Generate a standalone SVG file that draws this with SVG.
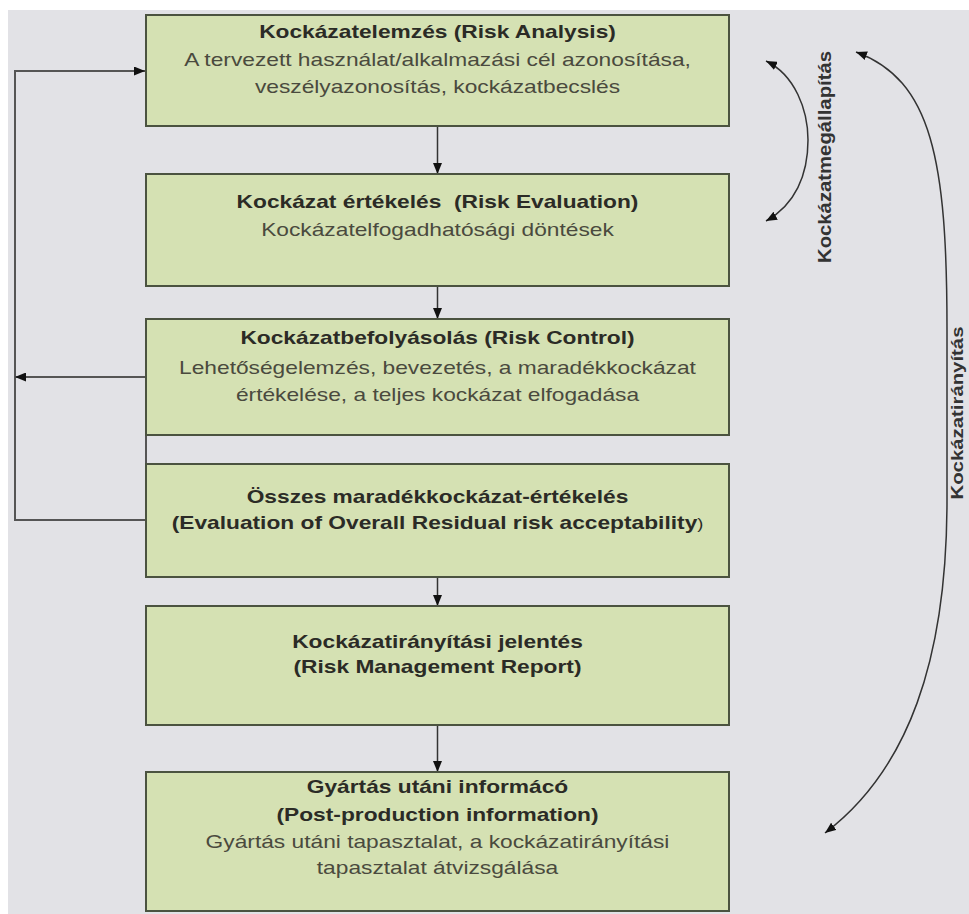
<svg xmlns="http://www.w3.org/2000/svg" width="969" height="914" viewBox="0 0 969 914">
<style>
.box{fill:#d5e1b3;stroke:#4b5340;stroke-width:2}
.t{font-family:"Liberation Sans",Arial,sans-serif;font-size:17.5px;text-anchor:middle}
.b{font-weight:bold;fill:#2b2b26}
.n{fill:#4a4a3e}
.con{fill:none;stroke:#333;stroke-width:1.5}
.loop{fill:none;stroke:#555;stroke-width:2}
.side{font-family:"Liberation Sans",Arial,sans-serif;font-weight:bold;fill:#333;text-anchor:middle}
</style>
<defs>
<marker id="ah" viewBox="0 0 11 9" refX="11" refY="4.5" markerWidth="11" markerHeight="9" markerUnits="userSpaceOnUse" orient="auto-start-reverse">
<path d="M0,0 L11,4.5 L0,9 z" fill="#111" stroke="none"/>
</marker>
</defs>
<rect width="969" height="914" fill="#ffffff"/>
<rect x="8" y="10" width="961" height="904" fill="#e2e2e6"/>

<g id="connectors">
<line class="con" x1="437.5" y1="127" x2="437.5" y2="174" marker-end="url(#ah)"/>
<line class="con" x1="437.5" y1="287" x2="437.5" y2="319" marker-end="url(#ah)"/>
<line class="con" x1="437.5" y1="578" x2="437.5" y2="606" marker-end="url(#ah)"/>
<line class="con" x1="437.5" y1="726" x2="437.5" y2="772" marker-end="url(#ah)"/>
<line class="loop" x1="146" y1="435" x2="146" y2="464"/>
<polyline class="loop" points="146,520 15,520 15,71 145,71" marker-end="url(#ah)"/>
<line class="loop" x1="145" y1="377" x2="15" y2="377" marker-end="url(#ah)"/>
<path class="con" d="M 766 61 C 795 75, 808 110, 808 140 C 808 175, 795 205, 766 221" marker-start="url(#ah)" marker-end="url(#ah)"/>
<path class="con" d="M 856 52 C 932 80, 947 160, 947 330 L 947 500 C 947 660, 908 770, 825 833" marker-start="url(#ah)" marker-end="url(#ah)"/>
</g>

<g id="label-kockazatmegallapitas">
<text class="side" font-size="18" transform="translate(831 157) rotate(-90)" textLength="212" lengthAdjust="spacingAndGlyphs">Kockázatmegállapítás</text>
</g>
<g id="label-kockazatiranyitas">
<text class="side" font-size="17" transform="translate(963 413) rotate(-90)" textLength="173" lengthAdjust="spacingAndGlyphs">Kockázatirányítás</text>
</g>

<g id="risk-analysis">
<rect class="box" x="146" y="15" width="583" height="111"/>
<g transform="matrix(1.3 0 0 1 437.5 0)">
<text class="t b" x="0" y="38">Kockázatelemzés (Risk Analysis)</text>
<text class="t n" x="0" y="66">A tervezett használat/alkalmazási cél azonosítása,</text>
<text class="t n" x="0" y="93">veszélyazonosítás, kockázatbecslés</text>
</g>
</g>

<g id="risk-evaluation">
<rect class="box" x="146" y="174" width="583" height="112"/>
<g transform="matrix(1.3 0 0 1 437.5 0)">
<text class="t b" x="0" y="208" xml:space="preserve">Kockázat értékelés  (Risk Evaluation)</text>
<text class="t n" x="0" y="236">Kockázatelfogadhatósági döntések</text>
</g>
</g>

<g id="risk-control">
<rect class="box" x="146" y="319" width="583" height="116"/>
<g transform="matrix(1.3 0 0 1 437.5 0)">
<text class="t b" x="0" y="344">Kockázatbefolyásolás (Risk Control)</text>
<text class="t n" x="0" y="374">Lehetőségelemzés, bevezetés, a maradékkockázat</text>
<text class="t n" x="0" y="401">értékelése, a teljes kockázat elfogadása</text>
</g>
</g>

<g id="overall-residual">
<rect class="box" x="146" y="464" width="583" height="113"/>
<g transform="matrix(1.3 0 0 1 437.5 0)">
<text class="t b" x="0" y="503">Összes maradékkockázat-értékelés</text>
<text class="t b" x="0" y="529">(Evaluation of Overall Residual risk acceptability<tspan font-weight="normal" font-size="14">)</tspan></text>
</g>
</g>

<g id="report">
<rect class="box" x="146" y="606" width="583" height="119"/>
<g transform="matrix(1.3 0 0 1 437.5 0)">
<text class="t b" x="0" y="648">Kockázatirányítási jelentés</text>
<text class="t b" x="0" y="673">(Risk Management Report)</text>
</g>
</g>

<g id="post-production">
<rect class="box" x="146" y="772" width="583" height="139"/>
<g transform="matrix(1.3 0 0 1 437.5 0)">
<text class="t b" x="0" y="793">Gyártás utáni informácó</text>
<text class="t b" x="0" y="821">(Post-production information)</text>
<text class="t n" x="0" y="848">Gyártás utáni tapasztalat, a kockázatirányítási</text>
<text class="t n" x="0" y="874">tapasztalat átvizsgálása</text>
</g>
</g>
</svg>
